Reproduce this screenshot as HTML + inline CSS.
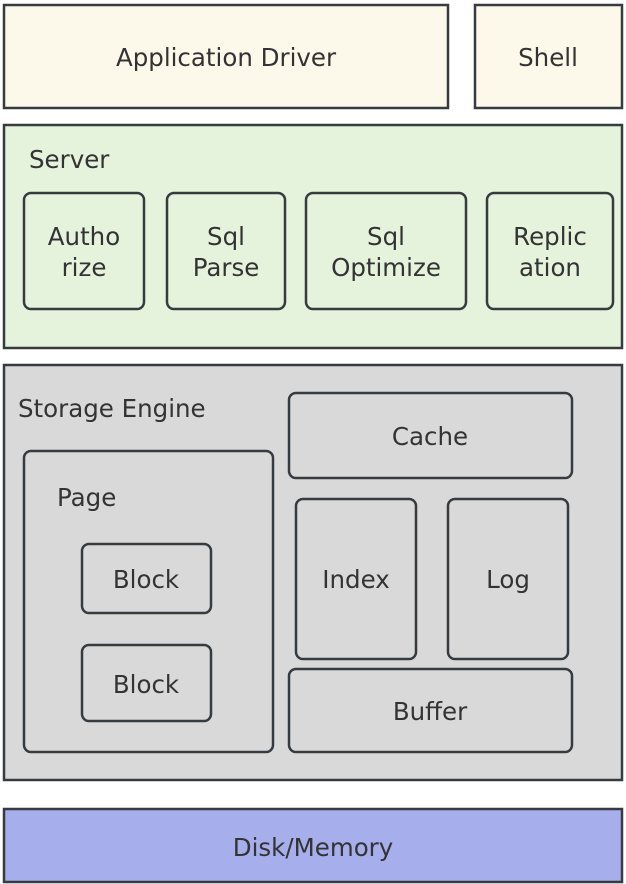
<!DOCTYPE html>
<html><head><style>body{margin:0;background:#fff}svg{display:block}</style></head><body>
<svg width="626" height="884" xmlns="http://www.w3.org/2000/svg" font-family="DejaVu Sans, sans-serif" font-size="24.5" fill="#333">
<g stroke="#363b40" stroke-width="2.5">
<rect x="4" y="5" width="444" height="103" fill="#fcf8ea"/>
<rect x="475" y="5" width="147" height="103" fill="#fcf8ea"/>
<rect x="4" y="125" width="618" height="223" fill="#e5f2dc"/>
<rect x="24" y="193" width="120" height="116" rx="7" fill="#e5f2dc"/>
<rect x="167" y="193" width="118" height="116" rx="7" fill="#e5f2dc"/>
<rect x="306" y="193" width="160" height="116" rx="7" fill="#e5f2dc"/>
<rect x="487" y="193" width="126" height="116" rx="7" fill="#e5f2dc"/>
<rect x="4" y="365" width="618" height="415" fill="#d9d9d9"/>
<rect x="289" y="393" width="283" height="85" rx="7" fill="#d9d9d9"/>
<rect x="24" y="451" width="249" height="301" rx="7" fill="#d9d9d9"/>
<rect x="82" y="544" width="129" height="69" rx="7" fill="#d9d9d9"/>
<rect x="82" y="645" width="129" height="76" rx="7" fill="#d9d9d9"/>
<rect x="296" y="499" width="120" height="160" rx="7" fill="#d9d9d9"/>
<rect x="448" y="499" width="120" height="160" rx="7" fill="#d9d9d9"/>
<rect x="289" y="669" width="283" height="83" rx="7" fill="#d9d9d9"/>
<rect x="4" y="809" width="618" height="73" fill="#a6aeec"/>
</g>
<g text-anchor="middle" stroke="none">
<text x="226" y="66">Application Driver</text>
<text x="548" y="66">Shell</text>
<text x="84" y="245">Autho</text><text x="84" y="276">rize</text>
<text x="226" y="245">Sql</text><text x="226" y="276">Parse</text>
<text x="386" y="245">Sql</text><text x="386" y="276">Optimize</text>
<text x="550" y="245">Replic</text><text x="550" y="276">ation</text>
<text x="430" y="445">Cache</text>
<text x="146" y="588">Block</text>
<text x="146" y="693">Block</text>
<text x="356" y="588">Index</text>
<text x="508" y="588">Log</text>
<text x="430" y="720">Buffer</text>
<text x="313" y="856">Disk/Memory</text>
</g>
<text x="29" y="168">Server</text>
<text x="18" y="417">Storage Engine</text>
<text x="57" y="506">Page</text>
</svg>
</body></html>
